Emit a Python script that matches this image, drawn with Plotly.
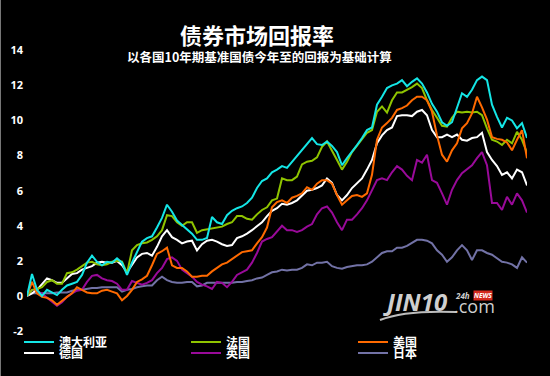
import plotly.graph_objects as go

# trading-day index (year to date)
day = list(range(101))

australia = [0, 1.25, 0.35, 0.0, 0.35, 0.2, 0.05, 0.35, 0.6, 0.7,
             0.8, 1.2, 1.9, 2.3, 1.95, 1.75, 1.95, 1.9, 2.15, 1.9,
             1.2, 1.9, 2.5, 3.1, 3.3, 3.4, 3.9, 4.45, 5.2, 4.8,
             4.3, 4.05, 3.75, 3.55, 3.2, 3.2, 3.3, 4.5, 4.2, 4.1,
             4.6, 4.85, 5.0, 5.1, 5.3, 5.6, 6.15, 6.55, 6.7, 7.05,
             7.2, 7.4, 7.3, 7.65, 8.0, 8.3, 8.7, 9.0, 8.65, 8.6,
             8.8, 8.55, 8.2, 7.45, 7.85, 8.2, 8.6, 9.0, 9.45, 9.6,
             10.9, 11.35, 11.85, 12.0, 12.1, 12.3, 11.95, 12.2, 12.4, 12.1,
             11.6, 10.95, 10.5, 9.9, 9.7, 9.9, 10.7, 11.55, 11.35, 11.75,
             12.3, 12.5, 12.3, 10.9, 10.2, 9.6, 10.15, 10.0, 9.55, 9.85,
             9.0]

france = [0, 0.35, 0.4, 0.5, 0.8, 0.9, 0.7, 0.7, 1.3, 1.35,
          1.5, 1.7, 1.9, 1.95, 1.8, 1.75, 1.8, 1.95, 2.0, 1.95,
          1.3, 2.6, 2.9, 3.0, 3.05, 3.2, 3.4, 3.75, 4.6, 4.55,
          4.2, 4.0, 4.2, 4.2, 3.6, 3.75, 3.8, 3.85, 3.9, 3.95,
          4.1, 4.2, 4.55, 4.55, 4.4, 4.35, 4.65, 4.9, 5.05, 5.45,
          5.55, 6.7, 6.6, 6.6, 6.8, 7.5, 7.65, 7.7, 7.9, 8.5,
          8.8, 8.3, 7.75, 7.2, 7.65, 8.2, 8.55, 8.9, 9.3, 9.45,
          10.5, 10.8, 10.45, 11.15, 11.6, 11.6, 11.75, 11.9, 12.1, 11.85,
          11.15, 10.6, 10.15, 9.7, 9.65, 10.15, 10.5, 10.45, 10.5, 10.45,
          10.5, 10.3, 9.55, 8.9, 8.8, 8.6, 8.9, 8.7, 9.35, 8.9,
          8.15]

usa = [0, 0.8, 0.15, -0.05, -0.1, -0.25, -0.5, -0.25, -0.05, 0.15,
       0.5, 0.35, 0.2, 0.15, 0.15, 0.3, 0.35, 0.25, 0.15, -0.25,
       0.0, 0.35, 0.8, 0.95, 1.15, 1.75, 2.4, 2.55, 2.75, 1.75,
       1.6, 1.6, 1.4, 1.1, 1.1, 1.15, 1.15, 1.4, 1.6, 1.8,
       1.9, 2.1, 2.3, 2.5, 2.55, 2.6, 3.0, 3.35, 3.9, 5.05,
       5.35, 5.45, 5.3, 5.6, 5.7, 5.85, 6.2, 6.05, 6.4, 6.6,
       6.6, 6.4, 5.75, 5.2, 5.45, 5.7, 5.75, 5.65, 5.85, 6.9,
       8.9, 9.6, 9.85, 10.15, 10.6, 10.7, 10.85, 11.15, 11.35, 11.35,
       11.15, 10.5, 9.15, 8.05, 7.65, 8.3, 8.7, 9.55, 9.85, 10.4,
       11.35, 10.75, 10.05, 9.05, 8.95, 8.9, 8.75, 8.3, 8.9, 9.45,
       7.85]

germany = [0, 0.15, 0.35, 0.7, 1.0, 0.9, 0.75, 0.75, 1.0, 1.25,
           1.3, 1.5, 1.6, 1.7, 1.9, 1.95, 1.9, 1.9, 2.0, 1.75,
           1.35, 1.75, 2.2, 2.4, 2.45, 2.3, 2.8, 3.4, 3.75, 3.35,
           3.2, 3.0, 3.1, 3.15, 2.6, 2.95, 3.15, 3.2, 3.1, 2.95,
           2.85, 2.9, 3.3, 3.4, 3.55, 3.75, 4.0, 4.2, 4.55, 4.85,
           5.0, 5.25, 5.2, 5.3, 5.45, 5.75, 6.0, 6.05, 6.15, 6.3,
           6.7, 6.45, 5.75, 5.45, 5.75, 6.15, 6.45, 6.7, 7.2, 7.75,
           8.7, 9.15, 9.45, 9.6, 10.25, 10.3, 10.3, 10.25, 10.5, 10.6,
           10.3, 9.45, 9.05, 9.05, 9.2, 9.05, 9.2, 8.9, 8.85, 9.0,
           9.05, 9.3, 8.2, 7.75, 7.4, 6.9, 7.05, 6.7, 7.2, 7.05,
           6.3]

uk = [0, 0.35, 0.25, 0.15, -0.1, -0.35, -0.55, -0.35, -0.05, 0.15,
      0.3, 0.35, 0.8, 1.15, 1.2, 1.0, 0.9, 0.85, 0.7, 0.35,
      0.35, 0.85, 0.75, 0.65, 0.75, 0.9, 1.3, 1.6, 2.1, 2.2,
      2.0, 1.5, 1.3, 1.1, 0.8, 0.65, 0.55, 0.4, 0.8, 0.75,
      0.5, 0.8, 1.2, 1.35, 1.5, 1.9, 2.45, 3.1, 3.25, 3.35,
      3.65, 4.0, 3.75, 3.75, 3.65, 3.75, 3.95, 4.1, 4.65, 5.0,
      5.1, 4.75, 4.2, 3.75, 4.35, 4.35, 4.65, 5.0, 5.45, 6.05,
      6.6, 6.7, 6.6, 7.05, 7.4, 7.2, 6.85, 6.6, 7.75, 7.6,
      8.05, 6.6, 6.45, 5.85, 5.2, 6.05, 6.6, 7.0, 7.2, 7.45,
      7.85, 8.2, 7.45, 5.3, 5.3, 4.9, 5.65, 5.2, 5.85, 5.45,
      4.75]

japan = [0, 0.15, 0.15, 0.15, 0.15, 0.15, 0.2, 0.2, 0.2, 0.3,
         0.35, 0.35, 0.4, 0.45, 0.45, 0.5, 0.5, 0.5, 0.5, 0.25,
         0.35, 0.4, 0.5, 0.55, 0.6, 0.6, 0.9, 1.1, 0.9, 0.8,
         0.75, 0.75, 0.8, 0.8, 0.55, 0.6, 0.75, 0.75, 0.75, 0.75,
         0.75, 0.75, 0.8, 0.8, 0.85, 0.9, 1.0, 1.05, 1.2, 1.35,
         1.4, 1.5, 1.45, 1.5, 1.5, 1.6, 1.8, 1.75, 1.9, 1.9,
         1.95, 1.7, 1.6, 1.55, 1.65, 1.7, 1.75, 1.75, 1.8, 1.95,
         2.2, 2.45, 2.55, 2.55, 2.75, 2.75, 2.85, 3.05, 3.2, 3.2,
         3.15, 3.0, 2.6, 2.35, 1.95, 2.2, 2.6, 2.9, 2.6, 2.05,
         2.6, 2.6, 2.45, 2.35, 2.15, 1.95, 1.9, 1.8, 1.6, 2.2,
         1.9]

names = ["澳大利亚", "法国", "美国", "德国", "英国", "日本"]
colors = ["#14e6e6", "#8fc400", "#ff6a00", "#ffffff", "#990a99", "#7272a6"]
y_ticks = [-2, 0, 2, 4, 6, 8, 10, 12, 14]

series = [australia, france, usa, germany, uk, japan]
legend_ids = ["legend", "legend", "legend", "legend2", "legend2", "legend2"]
draw_order = [5, 4, 3, 1, 2, 0]

fig = go.Figure()
for k in draw_order:
    fig.add_trace(go.Scatter(
        x=day, y=series[k], mode="lines", name=names[k],
        line=dict(color=colors[k], width=2),
        legend=legend_ids[k], legendrank=k + 1,
        hoverinfo="skip",
    ))

PLOT_L, PLOT_T, PLOT_W, PLOT_H = 27, 45, 500, 291


def px(xp):
    return (xp - PLOT_L) / PLOT_W


def py(yp):
    return (PLOT_T + PLOT_H - yp) / PLOT_H


legend_font = dict(family="Noto Sans CJK SC", size=12, color="#ffffff", weight="bold")
common_legend = dict(orientation="h", xanchor="left", yanchor="middle",
                     bgcolor="rgba(0,0,0,0)", font=legend_font,
                     entrywidth=122, entrywidthmode="pixels",
                     traceorder="normal", itemwidth=30)

fig.update_layout(
    width=550, height=376,
    paper_bgcolor="#000000", plot_bgcolor="#000000",
    margin=dict(l=PLOT_L, r=550 - PLOT_L - PLOT_W, t=PLOT_T, b=376 - PLOT_T - PLOT_H,
                autoexpand=False),
    showlegend=True,
    legend=dict(x=px(19), y=py(342), **common_legend),
    legend2=dict(x=px(19), y=py(353), **common_legend),
    xaxis=dict(visible=False, range=[0, 100]),
    yaxis=dict(range=[-2.28, 14.3], tickvals=y_ticks, ticktext=[str(v) for v in y_ticks],
               showgrid=False, zeroline=False, showline=False, ticks="",
               ticklabelstandoff=3,
               tickfont=dict(family="Open Sans", size=11, color="#ffffff", weight="bold")),
    font=dict(family="Noto Sans CJK SC", color="#ffffff"),
)

# titles
fig.add_annotation(text="债券市场回报率", x=px(257), y=py(34), xref="paper", yref="paper",
                   showarrow=False, xanchor="center", yanchor="middle",
                   font=dict(family="Noto Sans CJK SC", size=22, color="#ffffff", weight="bold"))
fig.add_annotation(text="以各国10年期基准国债今年至的回报为基础计算", x=px(259), y=py(57),
                   xref="paper", yref="paper", showarrow=False, xanchor="center", yanchor="middle",
                   font=dict(family="Noto Sans CJK SC", size=12.5, color="#ffffff", weight="bold"))

# watermark
fig.add_annotation(text="<i><b>JIN10</b></i>", x=px(415), y=py(301), xref="paper", yref="paper",
                   showarrow=False, xanchor="center", yanchor="middle",
                   font=dict(family="Open Sans", size=24, color="#cfcfcf"))
fig.add_annotation(text=".com", x=px(452), y=py(306), xref="paper", yref="paper",
                   showarrow=False, xanchor="left", yanchor="middle",
                   font=dict(family="Open Sans", size=18, color="#cfcfcf"))
fig.add_annotation(text="<i>24h</i>", x=px(472), y=py(295), xref="paper", yref="paper",
                   showarrow=False, xanchor="right", yanchor="middle",
                   font=dict(family="Open Sans", size=8, color="#cfcfcf", weight="bold"))
fig.add_annotation(text="<i><b>NEWS</b></i>", x=px(473), y=py(295), xref="paper", yref="paper",
                   showarrow=False, xanchor="left", yanchor="middle", bgcolor="#d42a1e",
                   borderpad=0,
                   font=dict(family="Open Sans", size=6.5, color="#ffffff"))
fig.add_shape(type="path", xref="paper", yref="paper",
              path=f"M {px(380)},{py(320)} Q {px(405)},{py(310)} {px(456)},{py(312)}",
              line=dict(color="#bdbdbd", width=2))
# thin grey frame edge on the left
fig.add_shape(type="line", xref="paper", yref="paper",
              x0=px(0.5), x1=px(0.5), y0=py(0), y1=py(376),
              line=dict(color="#777777", width=1))

fig.write_html("out.html", config={"displayModeBar": False},
               post_script="document.body.style.margin='0';")
